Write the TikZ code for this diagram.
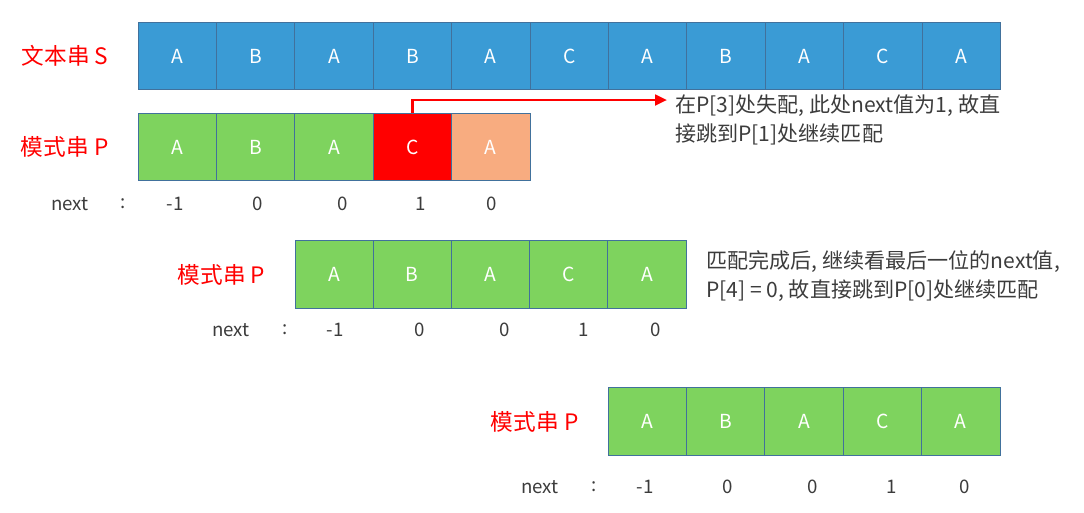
\documentclass[tikz,border=0pt]{standalone}
\usepackage{fontspec}
\usepackage{tikz}
\usetikzlibrary{arrows.meta, positioning, calc}
\newfontfamily\cjk{Noto Sans CJK SC}
\definecolor{textblue}{RGB}{58,155,213}
\definecolor{patgreen}{RGB}{126,211,94}
\definecolor{failred}{RGB}{255,0,0}
\definecolor{restpeach}{RGB}{248,172,128}
\definecolor{cellline}{RGB}{65,113,156}
\definecolor{notegray}{RGB}{60,60,60}

\begin{document}
\begin{tikzpicture}[
  x=0.75pt, y=-0.75pt,
  cell/.style={draw=cellline, line width=0.6pt, fill=#1, minimum width=58.8pt, minimum height=50.6pt, inner sep=0pt, outer sep=0pt, text=white, font=\cjk\fontsize{14.5}{16}\selectfont},
  rowlabel/.style={text=failred, inner sep=0pt, font=\cjk\fontsize{17}{19}\selectfont},
  idx/.style={text=notegray, inner sep=0pt, font=\cjk\fontsize{14}{16}\selectfont},
  note/.style={text=notegray, align=left, anchor=north west, inner sep=0pt, font=\cjk\fontsize{15.8}{21.75}\selectfont},
  arr/.style={-{Triangle[length=9pt, width=8pt]}, draw=failred, line width=2pt},
]
\useasboundingbox (0,0) rectangle (1084,512);

% text string S
\foreach \ch [count=\i] in {A,B,A,B,A,C,A,B,A,C,A}
  \node[cell=textblue] (s\i) at ({138+78.4*(\i-0.5)},56) {\ch};
\node[rowlabel, left=22pt of s1] (slabel) {文本串 S};

% pattern P, first try (mismatch at P[3])
\foreach \ch/\col [count=\i] in {A/patgreen, B/patgreen, A/patgreen, C/failred, A/restpeach}
  \node[cell=\col] (pa\i) at ({138+78.4*(\i-0.5)},147) {\ch};
\node[rowlabel, left=22pt of pa1] (palabel) {模式串 P};
\node[idx] (na) at (70,204) {next};
\node[idx] (ca) at (123,204) {:};
\foreach \v/\x [count=\i] in {-1/175, 0/258, 0/343, 1/421, 0/492}
  \node[idx] (na\i) at (\x,204) {\v};

\node[note] (notea) at (675,95) {在P[3]处失配, 此处next值为1, 故直\\接跳到P[1]处继续匹配};
\coordinate (tipa) at (667,100);
\draw[arr] (pa4.north) |- (tipa);

% pattern P, second try (full match)
\foreach \ch [count=\i] in {A,B,A,C,A}
  \node[cell=patgreen] (pb\i) at ({295+78.2*(\i-0.5)},274.5) {\ch};
\node[rowlabel, left=22pt of pb1] (pblabel) {模式串 P};
\node[idx] (nb) at (231,330) {next};
\node[idx] (cb) at (285,330) {:};
\foreach \v/\x [count=\i] in {-1/335, 0/420, 0/505, 1/584, 0/656}
  \node[idx] (nb\i) at (\x,330) {\v};

\node[note] (noteb) at (706,250) {匹配完成后, 继续看最后一位的next值,\\P[4] = 0, 故直接跳到P[0]处继续匹配};

% pattern P, third try
\foreach \ch [count=\i] in {A,B,A,C,A}
  \node[cell=patgreen] (pc\i) at ({608+78.4*(\i-0.5)},421.5) {\ch};
\node[rowlabel, left=22pt of pc1] (pclabel) {模式串 P};
\node[idx] (nc) at (540,487) {next};
\node[idx] (cc) at (594,487) {:};
\foreach \v/\x [count=\i] in {-1/645, 0/728, 0/813, 1/892, 0/965}
  \node[idx] (nc\i) at (\x,487) {\v};
\end{tikzpicture}
\end{document}
